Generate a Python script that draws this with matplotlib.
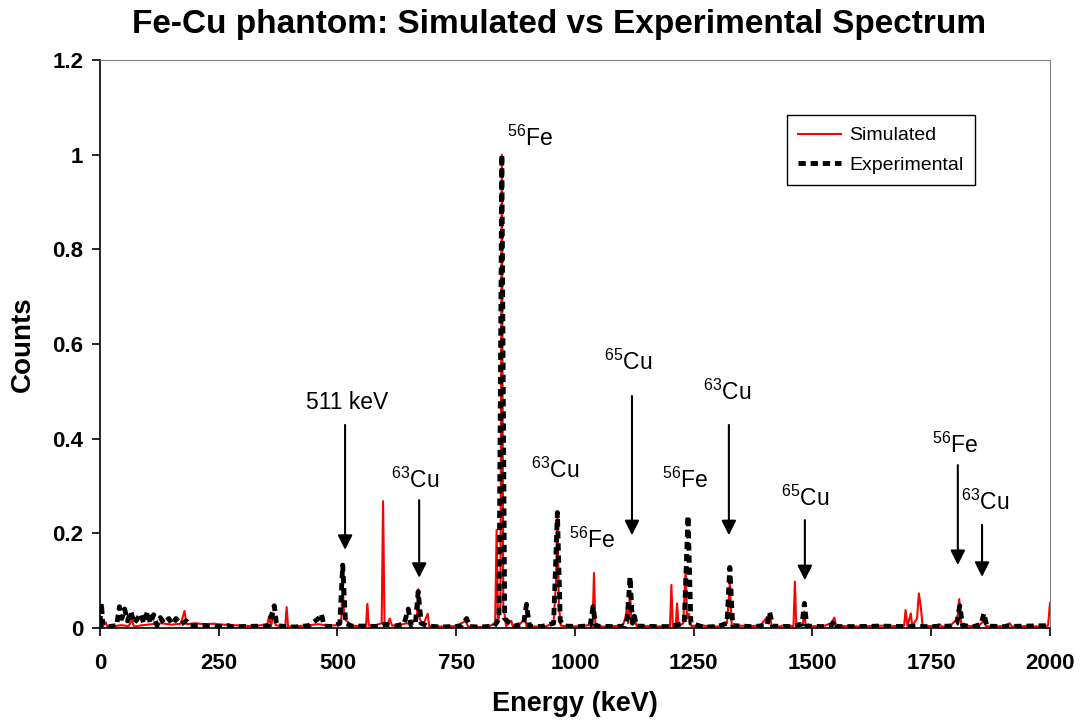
import matplotlib
matplotlib.use("Agg")
import matplotlib.pyplot as plt

plt.rcParams["font.family"] = ["Liberation Sans", "DejaVu Sans"]
plt.rcParams["mathtext.fontset"] = "custom"
plt.rcParams["mathtext.rm"] = "Liberation Sans"
plt.rcParams["mathtext.it"] = "Liberation Sans"
plt.rcParams["mathtext.bf"] = "Liberation Sans:bold"

# Simulated spectrum (energy keV, normalised counts)
sim_energy = [0, 5, 12, 16, 30, 45, 60, 67, 72, 90, 110, 130, 150, 170, 178, 182,
              200, 220, 240, 260, 280, 300, 320, 340, 352, 356, 360, 366, 370, 380,
              390, 393, 396, 420, 440, 460, 480, 500, 508, 511, 514, 530, 545, 560, 563,
              566, 580, 593, 596, 599, 605, 610, 615, 630, 645, 655, 667, 670, 673, 680,
              690, 693, 720, 750, 770, 775, 800, 820, 832, 835, 838, 843, 846, 849,
              855, 866, 869, 880, 895, 898, 920, 940, 955, 960, 963, 966, 970, 990,
              1010, 1030, 1037, 1040, 1043, 1060, 1080, 1100, 1106, 1109, 1112, 1116,
              1119, 1125, 1130, 1150, 1170, 1190, 1200, 1203, 1206, 1212, 1215, 1218,
              1228, 1233, 1236, 1240, 1245, 1260, 1280, 1300, 1320, 1326, 1330, 1345,
              1370, 1390, 1410, 1414, 1430, 1440, 1460, 1463, 1466, 1480, 1483, 1486,
              1500, 1520, 1540, 1546, 1550, 1580, 1600, 1620, 1650, 1680, 1693, 1696,
              1700, 1707, 1710, 1720, 1724, 1728, 1732, 1750, 1768, 1772, 1790, 1805,
              1809, 1813, 1830, 1850, 1861, 1865, 1880, 1900, 1915, 1920, 1950, 1980,
              1996, 2000]
sim_counts = [0.0, 0.003, 0.012, 0.002, 0.004, 0.006, 0.004, 0.016, 0.003, 0.006, 0.008,
              0.01, 0.007, 0.009, 0.036, 0.008, 0.01, 0.008, 0.009, 0.007, 0.006, 0.005,
              0.004, 0.006, 0.005, 0.025, 0.004, 0.03, 0.006, 0.004, 0.004, 0.044, 0.003,
              0.004, 0.006, 0.008, 0.005, 0.006, 0.02, 0.10, 0.02, 0.005, 0.004, 0.004,
              0.051, 0.005, 0.006, 0.01, 0.268, 0.01, 0.006, 0.02, 0.005, 0.006, 0.01,
              0.008, 0.02, 0.082, 0.02, 0.006, 0.03, 0.004, 0.003, 0.004, 0.015, 0.003,
              0.002, 0.004, 0.01, 0.207, 0.01, 0.05, 1.0, 0.05, 0.004, 0.015, 0.003,
              0.004, 0.02, 0.004, 0.003, 0.004, 0.01, 0.1, 0.24, 0.05, 0.005, 0.003,
              0.004, 0.006, 0.005, 0.116, 0.005, 0.003, 0.004, 0.005, 0.02, 0.04, 0.01,
              0.075, 0.01, 0.02, 0.004, 0.004, 0.003, 0.004, 0.004, 0.091, 0.004, 0.004,
              0.052, 0.004, 0.01, 0.123, 0.02, 0.03, 0.004, 0.006, 0.004, 0.003, 0.01,
              0.095, 0.006, 0.005, 0.004, 0.005, 0.03, 0.004, 0.003, 0.006, 0.004, 0.098,
              0.004, 0.01, 0.035, 0.004, 0.004, 0.003, 0.01, 0.022, 0.004, 0.004, 0.003,
              0.004, 0.005, 0.004, 0.005, 0.038, 0.004, 0.031, 0.004, 0.02, 0.073, 0.045,
              0.004, 0.004, 0.008, 0.003, 0.004, 0.02, 0.061, 0.01, 0.004, 0.005, 0.015,
              0.004, 0.003, 0.004, 0.01, 0.003, 0.004, 0.003, 0.005, 0.053]

# Experimental spectrum
exp_energy = [0, 3, 6, 20, 35, 41, 46, 52, 58, 65, 72, 86, 92, 100, 106, 113, 120, 127,
              135, 145, 152, 160, 170, 182, 190, 210, 230, 250, 270, 280, 300, 340, 355,
              362, 367, 372, 390, 410, 440, 460, 466, 472, 490, 505, 511, 517, 530, 560,
              585, 600, 620, 640, 649, 655, 664, 670, 676, 690, 720, 760, 772, 778, 800,
              830, 840, 846, 852, 870, 892, 898, 904, 930, 955, 963, 969, 980, 1010, 1032,
              1038, 1044, 1080, 1105, 1110, 1116, 1121, 1125, 1130, 1170, 1200, 1230,
              1238, 1244, 1270, 1300, 1320, 1326, 1332, 1370, 1404, 1410, 1416, 1450,
              1478, 1483, 1488, 1520, 1540, 1546, 1552, 1600, 1640, 1700, 1750, 1790,
              1804, 1810, 1816, 1840, 1855, 1861, 1867, 1900, 1950, 2000]
exp_counts = [0.01, 0.053, 0.005, 0.003, 0.005, 0.045, 0.02, 0.04, 0.015, 0.035, 0.01,
              0.03, 0.01, 0.035, 0.01, 0.028, 0.005, 0.022, 0.01, 0.02, 0.008, 0.02, 0.008,
              0.015, 0.005, 0.006, 0.004, 0.003, 0.005, 0.002, 0.003, 0.004, 0.005, 0.03,
              0.047, 0.005, 0.003, 0.002, 0.005, 0.02, 0.03, 0.004, 0.003, 0.01, 0.133,
              0.01, 0.004, 0.004, 0.003, 0.008, 0.004, 0.008, 0.04, 0.005, 0.01, 0.077,
              0.01, 0.004, 0.002, 0.004, 0.02, 0.003, 0.002, 0.004, 0.02, 1.0, 0.02, 0.003,
              0.01, 0.05, 0.004, 0.003, 0.01, 0.244, 0.015, 0.004, 0.003, 0.005, 0.045,
              0.004, 0.003, 0.004, 0.02, 0.108, 0.01, 0.025, 0.004, 0.003, 0.003, 0.01,
              0.237, 0.01, 0.002, 0.003, 0.01, 0.128, 0.005, 0.003, 0.005, 0.033, 0.004,
              0.003, 0.008, 0.052, 0.004, 0.003, 0.006, 0.015, 0.003, 0.003, 0.004, 0.003,
              0.003, 0.004, 0.01, 0.047, 0.005, 0.003, 0.008, 0.031, 0.004, 0.003, 0.004,
              0.005]

# Peak labels: text, x, y
label_text = ["511 keV", "$^{63}$Cu", "$^{56}$Fe", "$^{63}$Cu", "$^{56}$Fe", "$^{65}$Cu",
              "$^{56}$Fe", "$^{63}$Cu", "$^{65}$Cu", "$^{56}$Fe", "$^{63}$Cu"]
label_x = [520, 663, 905, 958, 1036, 1112, 1232, 1320, 1484, 1800, 1863]
label_y = [0.477, 0.313, 1.035, 0.334, 0.186, 0.562, 0.313, 0.499, 0.275, 0.387, 0.266]

# Arrows: x, start y, end y
arrow_x = [516, 672, 1120, 1324, 1484, 1806, 1857]
arrow_y0 = [0.429, 0.27, 0.49, 0.429, 0.228, 0.344, 0.218]
arrow_y1 = [0.165, 0.106, 0.196, 0.196, 0.101, 0.133, 0.108]

fig = plt.figure(figsize=(10.82, 7.25), dpi=100)
ax = fig.add_axes([0.0924, 0.1338, 0.878, 0.7834])

ax.plot(sim_energy, sim_counts, color="red", lw=1.5, label="Simulated", zorder=2)
ax.plot(exp_energy, exp_counts, color="black", lw=3.5, dashes=(1.5, 1.0),
        label="Experimental", zorder=3)

for t, x, y in zip(label_text, label_x, label_y):
    ax.text(x, y, t, fontsize=16.5, ha="center", va="center")

for x, y0, y1 in zip(arrow_x, arrow_y0, arrow_y1):
    ax.annotate("", xy=(x, y1), xytext=(x, y0),
                arrowprops=dict(arrowstyle="-|>", color="black", lw=1.5,
                                mutation_scale=22, shrinkA=0, shrinkB=0))

ax.set_xlim(0, 2000)
ax.set_ylim(0, 1.2)
ax.set_xticks(range(0, 2001, 250))
ax.set_yticks([0, 0.2, 0.4, 0.6, 0.8, 1.0, 1.2])
ax.set_yticklabels(["0", "0.2", "0.4", "0.6", "0.8", "1", "1.2"])
ax.tick_params(axis="both", direction="out", length=6, width=1.2, labelsize=16, pad=6)
ax.tick_params(axis="x", pad=12)
for lbl in ax.get_xticklabels() + ax.get_yticklabels():
    lbl.set_fontweight("bold")

ax.spines["top"].set_color("#808080")
ax.spines["right"].set_color("#808080")
ax.spines["left"].set_linewidth(1.2)
ax.spines["bottom"].set_linewidth(1.2)

ax.set_xlabel("Energy (keV)", fontsize=19.5, fontweight="bold", labelpad=12)
ax.set_ylabel("Counts", fontsize=20, fontweight="bold", labelpad=12)
fig.text(559 / 1082, 1 - 25 / 725, "Fe-Cu phantom: Simulated vs Experimental Spectrum",
         fontsize=24, fontweight="bold", ha="center", va="center")

leg = ax.legend(loc="upper right", bbox_to_anchor=(0.921, 0.903), fontsize=14,
                frameon=True, fancybox=False, edgecolor="black", framealpha=1,
                handlelength=2.2, handletextpad=0.4, borderpad=0.6, labelspacing=0.6,
                borderaxespad=0)
leg.get_frame().set_linewidth(1.0)

fig.savefig("out.png", dpi=100)
